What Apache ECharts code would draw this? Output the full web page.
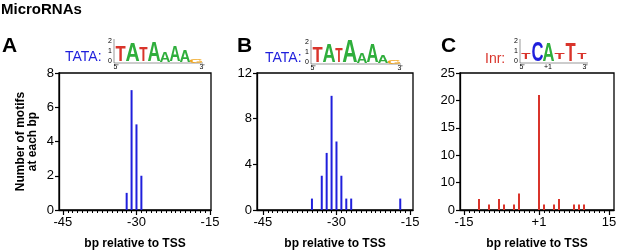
<!DOCTYPE html>
<html>
<head>
<meta charset="utf-8">
<script src="https://cdn.jsdelivr.net/npm/echarts@6/dist/echarts.min.js"></script>
<style>
  html, body { margin: 0; padding: 0; background: #fff; }
  #chart { width: 617px; height: 252px; }
</style>
</head>
<body>
<div id="chart"></div>
<script>
// panel A: TATA motif positions
const aPos = [-32, -31, -30, -29]
const aCount = [1, 7, 5, 2]
// panel B: TATA motif positions
const bPos = [-35, -33, -32, -31, -30, -29, -28, -27, -17]
const bCount = [1, 3, 5, 10, 6, 3, 1, 1, 1]
// panel C: Inr motif positions (bp, no zero)
const cPos = [-12, -10, -8, -7, -5, -4, 1, 2, 4, 5, 8, 9, 10]
const cCount = [2, 1, 2, 1, 1, 3, 21, 1, 1, 2, 1, 1, 1]

const tataTicks = [-45, -30, -15]
const inrTicks = [-15, 1, 15]
const inrTickLabels = ['-15', '+1', '15']
const cYTicks = [0, 5, 10, 15, 20, 25]
const cYLabels = ['0', '10', '10', '15', '20', '25']

const FONT = '"Liberation Sans", Arial, sans-serif'
const BLUE = '#1f1fdc'
const RED = '#d9342b'
const GREEN = '#2fae3c'
const ORANGE = '#f0a51e'

// Inr axis has no zero: -15..-1, +1..+15 -> index
const inrIdx = (bp) => (bp < 0 ? bp : bp - 1)

const range = (a, b) => {
  const r = []
  for (let i = a; i <= b; i++) r.push(i)
  return r
}

const grids = [
  { left: 59, width: 152, top: 73, height: 137 },
  { left: 257, width: 156, top: 73, height: 137 },
  { left: 460, width: 154, top: 73, height: 137 }
].map(g => ({
  ...g,
  outerBoundsMode: 'none',
  containLabel: false,
  show: true,
  borderColor: '#000',
  borderWidth: 1.3,
  backgroundColor: 'transparent'
}))

const mainX = (gridIndex, min, max, ticks, fmt) => ({
  type: 'value',
  gridIndex,
  min,
  max,
  splitLine: { show: false },
  axisLine: { show: true, onZero: false, lineStyle: { color: '#000', width: 1.3 } },
  axisTick: { show: true, length: 5, customValues: ticks, lineStyle: { color: '#000', width: 1.2 } },
  axisLabel: { customValues: ticks, formatter: fmt, color: '#000', fontSize: 13, fontFamily: FONT, margin: 6 },
  name: 'bp relative to TSS',
  nameLocation: 'middle',
  nameGap: 28,
  nameTextStyle: { color: '#000', fontSize: 12, fontWeight: 'bold', fontFamily: FONT }
})

const minorX = (gridIndex, min, max, ticks) => ({
  type: 'value',
  gridIndex,
  min,
  max,
  position: 'bottom',
  splitLine: { show: false },
  axisLine: { show: false, onZero: false },
  axisTick: { show: true, length: 3, customValues: ticks, lineStyle: { color: '#000', width: 1 } },
  axisLabel: { show: false }
})

const yAxisOf = (gridIndex, max, interval, extra) => ({
  type: 'value',
  gridIndex,
  min: 0,
  max,
  interval,
  splitLine: { show: false },
  axisLine: { show: true, onZero: false, lineStyle: { color: '#000', width: 1.3 } },
  axisTick: { show: true, length: 4, lineStyle: { color: '#000', width: 1.2 } },
  axisLabel: { color: '#000', fontSize: 13, fontFamily: FONT, margin: 5 },
  ...extra
})

const barSeries = (idx, pos, count, color) => ({
  type: 'bar',
  xAxisIndex: idx,
  yAxisIndex: idx,
  barWidth: 2,
  itemStyle: { color },
  silent: true,
  data: pos.map((p, i) => [p, count[i]])
})

// sequence logo letter, stretched to fit box
const LF = 20
const letter = (ch, x0, x1, h, base, color) => ({
  type: 'text',
  x: (x0 + x1) / 2,
  y: base - h * 0.49,
  scaleX: (x1 - x0) / (0.66 * LF),
  scaleY: h / (0.72 * LF),
  style: { text: ch, fill: color, font: 'bold ' + LF + 'px ' + FONT, align: 'center', verticalAlign: 'middle' }
})

const small = (text, x, y, align) => ({
  type: 'text', x, y,
  style: { text, fill: '#000', font: '7px ' + FONT, align: align || 'center', verticalAlign: 'middle' }
})

const logoAxis = (x, base, x1, p5, p3) => [
  { type: 'line', shape: { x1: x, y1: base - 24, x2: x, y2: base }, style: { stroke: '#555', lineWidth: 0.6 } },
  { type: 'line', shape: { x1: x, y1: base, x2: x1, y2: base }, style: { stroke: '#555', lineWidth: 0.6 } },
  small('2', x - 2, base - 22, 'right'),
  small('1', x - 2, base - 12, 'right'),
  small('0', x - 2, base - 2, 'right'),
  small("5'", p5, base + 4),
  small("3'", p3, base + 4)
]

const graphics = [
  { type: 'text', x: 1, y: 2, style: { text: 'MicroRNAs', fill: '#000', font: 'bold 15px ' + FONT } },
  { type: 'text', x: 2, y: 36, style: { text: 'A', fill: '#000', font: 'bold 21px ' + FONT } },
  { type: 'text', x: 237, y: 36, style: { text: 'B', fill: '#000', font: 'bold 21px ' + FONT } },
  { type: 'text', x: 441, y: 36, style: { text: 'C', fill: '#000', font: 'bold 21px ' + FONT } },
  { type: 'text', x: 65, y: 57, style: { text: 'TATA:', fill: BLUE, font: '14px ' + FONT, verticalAlign: 'middle' } },
  { type: 'text', x: 265, y: 58, style: { text: 'TATA:', fill: BLUE, font: '14px ' + FONT, verticalAlign: 'middle' } },
  { type: 'text', x: 485, y: 59, style: { text: 'Inr:', fill: RED, font: '14px ' + FONT, verticalAlign: 'middle' } },
  // logo A
  ...logoAxis(114, 63, 203, 116, 202),
  letter('T', 115, 126, 16, 63, RED),
  letter('A', 126, 139, 18, 63, GREEN),
  letter('T', 139, 148, 15, 63, RED),
  letter('A', 148, 160, 20, 63, GREEN),
  letter('A', 160, 170, 10, 63, GREEN),
  letter('A', 170, 180, 16, 63, GREEN),
  letter('A', 180, 190, 12, 63, GREEN),
  letter('G', 190, 202, 4, 63, ORANGE),
  // logo B
  ...logoAxis(311, 64, 401, 313, 400),
  letter('T', 312, 323, 16, 64, RED),
  letter('A', 323, 335, 18, 64, GREEN),
  letter('T', 335, 343, 15, 64, RED),
  letter('A', 343, 357, 22, 64, GREEN),
  letter('A', 357, 367, 11, 64, GREEN),
  letter('A', 367, 378, 18, 64, GREEN),
  letter('A', 378, 388, 8, 64, GREEN),
  letter('G', 388, 400, 4, 64, ORANGE),
  // logo C
  ...logoAxis(520, 63, 588, 522, 585),
  small('+1', 548, 67),
  letter('T', 521, 531, 7, 60, RED),
  letter('C', 532, 543, 20, 63, BLUE),
  letter('A', 543, 554, 18, 63, GREEN),
  letter('T', 554, 565, 7, 60, RED),
  letter('T', 565, 576, 19, 63, RED),
  letter('T', 577, 587, 6, 60, RED)
]

const chart = echarts.init(document.getElementById('chart'), null, { renderer: 'canvas' })
chart.setOption({
  animation: false,
  textStyle: { fontFamily: FONT },
  grid: grids,
  xAxis: [
    mainX(0, -45.8, -14.8, tataTicks, v => String(v)),
    mainX(1, -46.2, -14.4, tataTicks, v => String(v)),
    mainX(2, -15.8, 15, inrTicks.map(inrIdx), v => inrTickLabels[inrTicks.map(inrIdx).indexOf(v)]),
    minorX(0, -45.8, -14.8, range(-45, -15)),
    minorX(1, -46.2, -14.4, range(-45, -15)),
    minorX(2, -15.8, 15, range(-15, 14))
  ],
  yAxis: [
    yAxisOf(0, 8, 2, {
      name: 'Number of motifs\nat each bp',
      nameLocation: 'middle',
      nameGap: 20,
      nameTextStyle: { color: '#000', fontSize: 12, fontWeight: 'bold', fontFamily: FONT, lineHeight: 12 }
    }),
    yAxisOf(1, 12, 4),
    yAxisOf(2, 25, 5, {
      axisLabel: {
        color: '#000', fontSize: 13, fontFamily: FONT, margin: 5,
        formatter: v => cYLabels[cYTicks.indexOf(v)]
      }
    })
  ],
  series: [
    barSeries(0, aPos, aCount, BLUE),
    barSeries(1, bPos, bCount, BLUE),
    barSeries(2, cPos.map(inrIdx), cCount, RED)
  ],
  graphic: graphics
})
</script>
</body>
</html>
